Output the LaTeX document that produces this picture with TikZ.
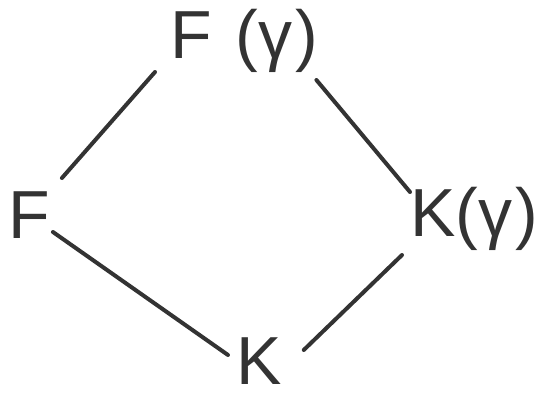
\documentclass[tikz,border=0pt]{standalone}
\usepackage{fontspec}
\setmainfont{Liberation Sans}
\usepackage{tikz}
\usetikzlibrary{positioning}

\begin{document}
\begin{tikzpicture}[
x=1pt,y=-1pt,
every node/.style={font=\fontsize{68}{68}\selectfont,inner sep=0pt,text=black!80},
field/.style={anchor=base west},
edge/.style={line width=4pt,line cap=round,draw=black!80}
]
\useasboundingbox (0,0) rectangle (538,394);

% Fields
\node[field] (ftop) at (170,58) {F\hspace{0.35em}(γ\hspace{0.05em})};
\node[field] (fleft) at (8,238) {F};
\node[field] (kright) at (410,236) {K(γ\hspace{0.05em})};
\node[field] (kbot) at (236,384) {K};

% Edges
\draw[edge] ([shift={(-15,14)}]ftop.base west)--([shift={(12,-60)}]fleft.base east);
\draw[edge] ([shift={(-2,22)}]ftop.base east)--([shift={(0,-44)}]kright.base west);
\draw[edge] ([shift={(3,-6)}]fleft.base east)--([shift={(-8,-29)}]kbot.base west);
\draw[edge] ([shift={(22,-34)}]kbot.base east)--([shift={(-8,19)}]kright.base west);

\end{tikzpicture}
\end{document}
